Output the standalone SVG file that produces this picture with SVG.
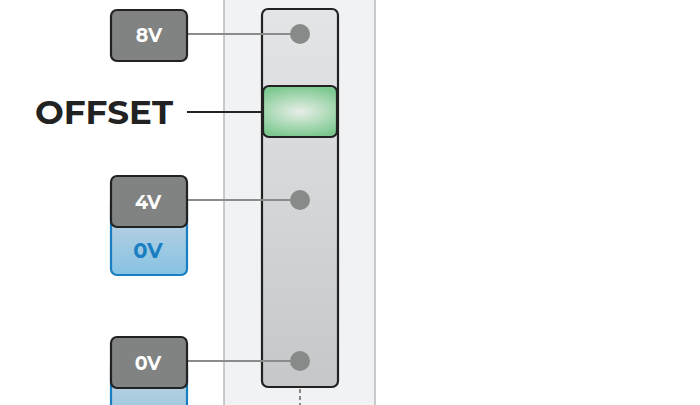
<svg xmlns="http://www.w3.org/2000/svg" width="700" height="405" viewBox="0 0 700 405">
<defs>
<linearGradient id="track" x1="0" y1="0" x2="0" y2="1">
<stop offset="0" stop-color="#e4e5e7"/>
<stop offset="1" stop-color="#c6c7c9"/>
</linearGradient>
<radialGradient id="knob" cx="0.5" cy="0.5" r="0.5" gradientTransform="translate(0.5,0.5) scale(1.5,1) translate(-0.5,-0.5)">
<stop offset="0" stop-color="#e8eee9"/>
<stop offset="0.5" stop-color="#b2dcbb"/>
<stop offset="1" stop-color="#7cc890"/>
</radialGradient>
<linearGradient id="blue" x1="0" y1="0" x2="0" y2="1">
<stop offset="0" stop-color="#ccd5de"/>
<stop offset="1" stop-color="#86c3e4"/>
</linearGradient>
<style>
.box{fill:#808381;stroke:#222;stroke-width:2.2}
.bbox{fill:url(#blue);stroke:#1a7ec2;stroke-width:2.2}
.lbl{font-family:"Montserrat","Lato","Liberation Sans",sans-serif;font-weight:bold;font-size:19px;fill:#fff;text-anchor:middle}
.blbl{font-family:"Montserrat","Lato","Liberation Sans",sans-serif;font-weight:bold;font-size:21px;fill:#1a7ec2;text-anchor:middle}
.conn{stroke:#8a8c8b;stroke-width:2.2;fill:none}
.dot{fill:#888a89}
</style>
</defs>
<rect x="0" y="0" width="700" height="405" fill="#fff"/>
<g id="panel">
<rect x="224" y="-2" width="151" height="410" fill="#f1f2f4" stroke="#a9aaac" stroke-width="1.2"/>
</g>
<g id="slider">
<rect x="262" y="9" width="76" height="378" rx="6" fill="url(#track)" stroke="#222" stroke-width="2.2"/>
<line x1="300" y1="389" x2="300" y2="405" stroke="#888" stroke-width="2" stroke-dasharray="4 3"/>
</g>
<g id="connectors">
<line class="conn" x1="187" y1="34" x2="300" y2="34"/>
<line class="conn" x1="187" y1="200" x2="300" y2="200"/>
<line class="conn" x1="187" y1="361" x2="300" y2="361"/>
<line x1="187" y1="112" x2="263" y2="112" stroke="#222" stroke-width="2.2"/>
</g>
<g id="dots">
<circle class="dot" cx="300" cy="34" r="10"/>
<circle class="dot" cx="300" cy="200" r="10"/>
<circle class="dot" cx="300" cy="361" r="10"/>
</g>
<g id="knob-offset">
<rect x="263" y="86" width="74" height="51" rx="6" fill="url(#knob)" stroke="#222" stroke-width="2.2"/>
</g>
<g id="offset-label">
<text x="35" y="124" font-family="Montserrat,Lato,'Liberation Sans',sans-serif" font-weight="bold" font-size="33" fill="#222" textLength="138" lengthAdjust="spacingAndGlyphs">OFFSET</text>
</g>
<g id="node-8v">
<rect class="box" x="111" y="10" width="76" height="51" rx="6"/>
<text class="lbl" x="149" y="42">8V</text>
</g>
<g id="node-0v-blue-1">
<rect class="bbox" x="111" y="196" width="76" height="79" rx="6"/>
<text class="blbl" x="148" y="258">0V</text>
</g>
<g id="node-4v">
<rect class="box" x="111" y="176" width="76" height="51" rx="6"/>
<text class="lbl" x="148" y="209">4V</text>
</g>
<g id="node-0v-blue-2">
<rect class="bbox" x="111" y="360" width="76" height="79" rx="6"/>
</g>
<g id="node-0v">
<rect class="box" x="111" y="337" width="76" height="51" rx="6"/>
<text class="lbl" x="148" y="370">0V</text>
</g>
</svg>
